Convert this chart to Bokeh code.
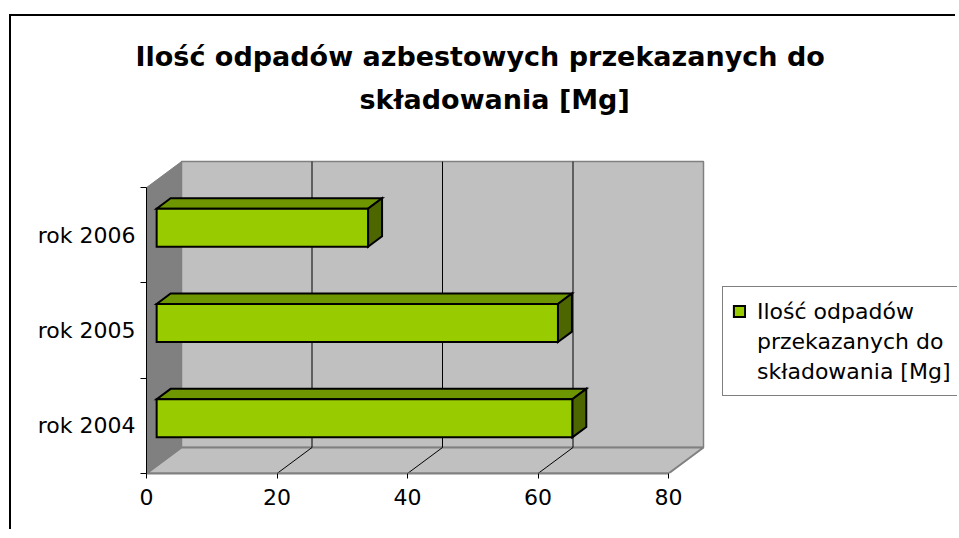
from bokeh.plotting import figure
from bokeh.models import Range1d, FixedTicker, Legend, LegendItem, Title, LinearAxis
from bokeh.embed import file_html
from bokeh.resources import INLINE

# ---- data ----
categories = ["rok 2004", "rok 2005", "rok 2006"]
values = [63.7, 61.5, 32.4]
x_ticks = [0, 20, 40, 60, 80]
x_max = 80
series_label_lines = ["Ilość odpadów", "przekazanych do", "składowania [Mg]"]
title_line1 = "Ilość odpadów azbestowych przekazanych do"
title_line2 = "składowania [Mg]"

# ---- layout / style constants ----
W, H = 946, 515
B_LEFT, B_TOP, B_BOTTOM = 135, 103, 58
PX_X = 6.525      # pixels per value unit
PX_Y = 95.3       # pixels per category band
DX, DY = 35 / PX_X, 26 / PX_Y     # 3-D depth offset in data units
F0, F1 = 0.29, 0.69               # bar depth (front, back) as fraction of depth
BAR_H = 0.4
FONT = "DejaVu Sans"

n = len(categories)
frame_w = W - B_LEFT
frame_h = H - B_TOP - B_BOTTOM

p = figure(width=W, height=H,
           x_range=Range1d(0, frame_w / PX_X), y_range=Range1d(0, frame_h / PX_Y),
           output_backend="svg", toolbar_location=None,
           min_border_left=B_LEFT, min_border_right=0,
           min_border_top=B_TOP, min_border_bottom=B_BOTTOM,
           x_axis_type=None, y_axis_type=None)
p.outline_line_color = None
p.background_fill_color = "white"
p.margin = (14, 0, 0, 9)
p.styles = {"border-left": "2px solid black", "border-top": "2px solid black"}

# ---- walls ----
p.patch([DX, x_max + DX, x_max + DX, DX], [DY, DY, n + DY, n + DY],
        fill_color="#C0C0C0", line_color="#808080", line_width=1.5)
p.patch([0, x_max, x_max + DX, DX], [0, 0, DY, DY],
        fill_color="#C0C0C0", line_color="#808080", line_width=2)
p.patch([0, DX, DX, 0], [0, DY, n + DY, n],
        fill_color="#808080", line_color="#808080", line_width=1)

# ---- gridlines (back wall + floor) ----
g = x_ticks[1:-1]
p.segment(x0=[v + DX for v in g], y0=[DY] * len(g), x1=[v + DX for v in g], y1=[n + DY] * len(g),
          line_color="black", line_width=1)
p.segment(x0=[v + DX for v in g], y0=[DY] * len(g), x1=g, y1=[0] * len(g),
          line_color="black", line_width=1)

# ---- bars ----
fx, fy = F0 * DX, F0 * DY
ddx, ddy = (F1 - F0) * DX, (F1 - F0) * DY
lefts = [fx] * n
rights = [v + fx for v in values]
bottoms = [i + 0.5 - BAR_H / 2 + fy for i in range(n)]
tops = [i + 0.5 + BAR_H / 2 + fy for i in range(n)]

top_xs = [[l, r, r + ddx, l + ddx] for l, r in zip(lefts, rights)]
top_ys = [[t, t, t + ddy, t + ddy] for t in tops]
side_xs = [[r, r + ddx, r + ddx, r] for r in rights]
side_ys = [[b, b + ddy, t + ddy, t] for b, t in zip(bottoms, tops)]

p.patches(top_xs, top_ys, fill_color="#6E9600", line_color="black", line_width=2, line_join="miter")
p.patches(side_xs, side_ys, fill_color="#4D6600", line_color="black", line_width=2, line_join="miter")
front = p.quad(left=lefts, right=rights, bottom=bottoms, top=tops,
               fill_color="#99CC00", line_color="black", line_width=2, line_join="miter")

# invisible renderers used only to carry the continuation lines of the legend label
blank = p.scatter(x=[], y=[], size=0, fill_alpha=0, line_alpha=0)

# ---- axes ----
xaxis = LinearAxis(ticker=FixedTicker(ticks=x_ticks, minor_ticks=[]))
xaxis.bounds = (x_ticks[0], x_ticks[-1])
xaxis.axis_line_color = "#808080"
xaxis.axis_line_width = 2
xaxis.major_tick_line_color = "black"
xaxis.major_tick_out = 5
xaxis.major_tick_in = 0
xaxis.minor_tick_line_color = None
xaxis.major_label_standoff = 10
xaxis.major_label_text_font = FONT
xaxis.major_label_text_font_size = "22px"
xaxis.major_label_text_color = "black"
p.add_layout(xaxis, "below")

centers = [i + 0.5 for i in range(n)]
yaxis = LinearAxis(ticker=FixedTicker(ticks=centers, minor_ticks=list(range(n + 1))))
yaxis.bounds = (0, n)
yaxis.major_label_overrides = {c: lab for c, lab in zip(centers, categories)}
yaxis.axis_line_color = "black"
yaxis.axis_line_width = 1
yaxis.major_tick_out = 0
yaxis.major_tick_in = 0
yaxis.minor_tick_out = 6
yaxis.minor_tick_in = 0
yaxis.minor_tick_line_color = "black"
yaxis.major_label_standoff = 5
yaxis.major_label_text_font = FONT
yaxis.major_label_text_font_size = "22px"
yaxis.major_label_text_color = "black"
p.add_layout(yaxis, "left")

# ---- titles ----
t2 = Title(text=title_line2, align="left", offset=213, text_font=FONT,
           text_font_size="27px", text_font_style="bold", text_color="black")
p.add_layout(t2, "above")
p.title.text = title_line1
p.title.align = "left"
p.title.offset = -11
p.title.text_font = FONT
p.title.text_font_size = "27px"
p.title.text_font_style = "bold"
p.title.text_color = "black"

# ---- legend ----
items = [LegendItem(label=series_label_lines[0], renderers=[front])]
items += [LegendItem(label=t, renderers=[blank]) for t in series_label_lines[1:]]
legend = Legend(items=items, location=(576, 77))
legend.label_text_font = FONT
legend.label_text_font_size = "22px"
legend.label_text_color = "black"
legend.label_height = 30
legend.glyph_width = 14
legend.glyph_height = 14
legend.label_standoff = 11
legend.padding = 9
legend.spacing = 0
legend.margin = 0
legend.border_line_color = "black"
legend.border_line_width = 1
legend.background_fill_color = "white"
legend.background_fill_alpha = 1
p.add_layout(legend)

open("out.html", "w").write(file_html(p, INLINE))
